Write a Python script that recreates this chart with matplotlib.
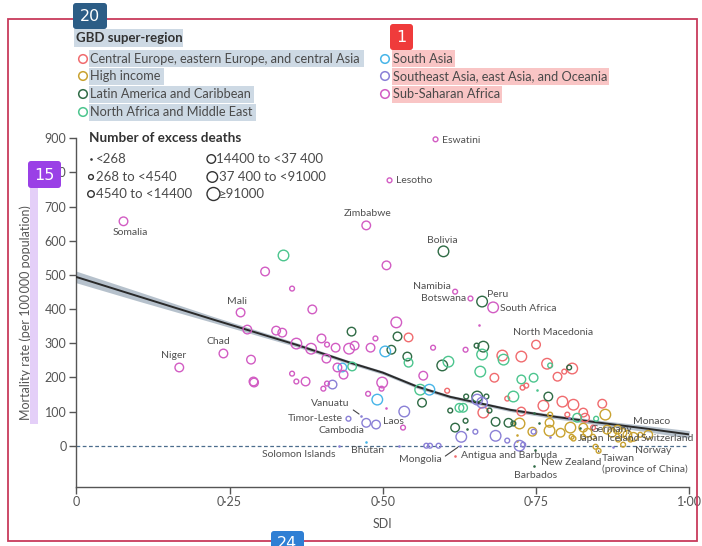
import matplotlib
matplotlib.use("Agg")
import matplotlib.pyplot as plt
from matplotlib.patches import Rectangle, FancyBboxPatch

plt.rcParams["font.family"] = ["Lato", "DejaVu Sans"]

W, H = 702, 546

# ---------------- data ----------------
region_labels = [
    "Central Europe, eastern Europe, and central Asia",
    "High income",
    "Latin America and Caribbean",
    "North Africa and Middle East",
    "South Asia",
    "Southeast Asia, east Asia, and Oceania",
    "Sub-Saharan Africa",
]
region_colors = ["#f06b6e", "#c9a230", "#2f6b45", "#4cc58e", "#47b5e8", "#8a80d6", "#d25cc3"]

size_labels = ["<268", "268 to <4540", "4540 to <14400",
               "14400 to <37 400", "37 400 to <91000", "\u226591000"]

# Central Europe, eastern Europe, and central Asia (named countries first)
cee_names = ["North Macedonia", "Antigua and Barbuda"]
cee_sdi = [0.750, 0.618, 0.542, 0.695, 0.726, 0.768, 0.796, 0.809, 0.785, 0.605,
           0.682, 0.734, 0.664, 0.703, 0.728, 0.762, 0.793, 0.811, 0.827, 0.830,
           0.858, 0.726, 0.843, 0.801]
cee_rate = [296, -29, 317, 264, 261, 240, 217, 226, 202, 161,
            199, 176, 97, 138, 170, 117, 129, 120, 97, 82,
            123, 100, 53, 91]
cee_size = [3, 0, 3, 4, 4, 4, 1, 4, 3, 1, 3, 1, 4, 1, 1, 4, 4, 4, 3, 3, 3, 3, 1, 1]

# High income
hi_names = ["Germany", "Japan", "Iceland", "Switzerland", "Monaco", "Norway",
            "Taiwan\n(province of China)", "New Zealand"]
hi_sdi = [0.863, 0.866, 0.883, 0.909, 0.933, 0.892, 0.852, 0.847,
          0.723, 0.719, 0.719, 0.744, 0.772, 0.772, 0.773, 0.790, 0.806, 0.808,
          0.811, 0.827, 0.834, 0.843, 0.874, 0.891, 0.884, 0.899, 0.904, 0.920, 0.827]
hi_rate = [91, 47, 47, 26, 32, 3, -15, -3,
           65, 32, 15, 41, 67, 44, 91, 38, 53, 26,
           21, 53, 38, 26, 38, 38, 18, 32, 18, 32, 26]
hi_size = [4, 3, 3, 3, 3, 1, 1, 1,
           4, 0, 0, 3, 3, 4, 1, 3, 4, 1, 1, 3, 3, 1, 3, 3, 1, 3, 1, 1, 1]

# Latin America and Caribbean
lac_names = ["Bolivia", "Peru", "Barbados"]
lac_sdi = [0.599, 0.662, 0.747,
           0.449, 0.524, 0.514, 0.540, 0.597, 0.653, 0.664, 0.669, 0.654, 0.636,
           0.564, 0.610, 0.635, 0.618, 0.638, 0.684, 0.705, 0.713, 0.755, 0.746,
           0.804, 0.770, 0.821, 0.749, 0.674]
lac_rate = [569, 422, -59,
            334, 320, 281, 261, 235, 293, 290, 144, 144, 144,
            126, 103, 73, 53, 50, 70, 67, 65, 67, 97,
            229, 144, 53, -12, 103]
lac_size = [4, 4, 0,
            3, 3, 3, 3, 4, 1, 4, 1, 4, 1, 3, 1, 1, 3, 0, 3, 3, 1, 0, 0, 1, 3, 0, 0, 1]

# North Africa and Middle East
name_names = []
name_sdi = [0.338, 0.450, 0.542, 0.607, 0.662, 0.697, 0.659, 0.773, 0.726,
            0.746, 0.752, 0.561, 0.713, 0.625, 0.631, 0.817, 0.848]
name_rate = [557, 232, 243, 246, 267, 252, 217, 235, 194,
             199, 164, 164, 144, 111, 111, 82, 79]
name_size = [4, 3, 3, 4, 4, 4, 4, 1, 3, 3, 0, 4, 4, 3, 3, 3, 1]

# South Asia
sa_names = ["Bhutan"]
sa_sdi = [0.473, 0.504, 0.434, 0.576, 0.491]
sa_rate = [12, 276, 229, 164, 135]
sa_size = [0, 4, 3, 4, 4]

# Southeast Asia, east Asia, and Oceania
sea_names = ["Timor-Leste", "Cambodia", "Laos", "Vanuatu", "Solomon Islands", "Mongolia"]
sea_sdi = [0.444, 0.473, 0.489, 0.465, 0.429, 0.626,
           0.418, 0.535, 0.654, 0.662, 0.651, 0.628, 0.684, 0.703, 0.723, 0.729,
           0.746, 0.773, 0.527, 0.571, 0.577, 0.591, 0.803, 0.876]
sea_rate = [79, 67, 62, 88, 0, 0,
            179, 100, 135, 126, 41, 26, 29, 15, 0, 3,
            41, 26, 0, 0, 0, 0, 82, -3]
sea_size = [1, 3, 3, 0, 0, 0,
            3, 4, 4, 4, 1, 4, 4, 1, 4, 1, 1, 0, 0, 1, 1, 1, 0, 0]

# Sub-Saharan Africa
ssa_names = ["Somalia", "Niger", "Chad", "Mali", "Zimbabwe", "Lesotho",
             "Eswatini", "Namibia", "Botswana", "South Africa"]
ssa_sdi = [0.077, 0.168, 0.240, 0.268, 0.473, 0.511, 0.586, 0.618, 0.643, 0.680,
           0.279, 0.285, 0.289, 0.308, 0.352, 0.326, 0.336, 0.359, 0.383, 0.385,
           0.400, 0.409, 0.423, 0.445, 0.454, 0.480, 0.488, 0.522, 0.408, 0.426,
           0.436, 0.352, 0.359, 0.374, 0.403, 0.409, 0.290, 0.506, 0.657, 0.582,
           0.635, 0.566, 0.499, 0.498, 0.476, 0.506, 0.533]
ssa_rate = [657, 229, 270, 390, 645, 777, 897, 451, 431, 405,
            340, 252, 188, 510, 460, 337, 331, 299, 284, 399,
            314, 296, 287, 284, 293, 287, 314, 361, 255, 229,
            208, 211, 188, 188, 167, 182, 185, 528, 352, 287,
            281, 205, 185, 167, 152, 111, 53]
ssa_size = [3, 3, 3, 3, 3, 1, 1, 1, 1, 4,
            3, 3, 3, 3, 1, 3, 3, 4, 4, 3,
            3, 1, 3, 4, 3, 3, 1, 4, 3, 3,
            3, 1, 1, 3, 1, 1, 3, 3, 0, 1,
            1, 3, 4, 1, 1, 0, 1]

# Fitted relationship between SDI and mortality, with its uncertainty band
fit_sdi = [0.0, 0.1, 0.224, 0.36, 0.447, 0.50, 0.556, 0.61, 0.708, 0.78, 0.855, 0.93, 1.0]
fit_rate = [494, 438, 369, 295, 243, 214, 173, 143, 105, 85, 67, 50, 33]
fit_half = [17, 14, 9, 6, 5, 5, 5, 5, 5, 6, 7, 9, 11]

x_ticks = [0, 0.25, 0.5, 0.75, 1.0]
x_tick_labels = ["0", "0\u00b725", "0\u00b750", "0\u00b775", "1\u00b700"]
y_ticks = [0, 100, 200, 300, 400, 500, 600, 700, 800, 900]

# ---------------- styling ----------------
ink = "#555555"
label_ink = "#505050"
diam_px = [2.6, 4.8, 6.6, 8.6, 10.6, 13.0]


def msize(cls):
    return (diam_px[cls] * 0.72) ** 2


# label placement: offset in pixels (x right, y up) and alignment
label_pos = {
    "Somalia": (7, -11, "center"), "Niger": (-6, 12, "center"), "Chad": (-5, 12, "center"),
    "Mali": (-4, 11, "center"), "Zimbabwe": (1, 12, "center"), "Bolivia": (-1, 11, "center"),
    "Lesotho": (6, 0, "left"), "Eswatini": (6, -1, "left"), "Namibia": (-4, 5, "right"),
    "Botswana": (-4, 0, "right"), "Peru": (5, 7, "left"), "South Africa": (7, -1, "left"),
    "North Macedonia": (17, 12, "center"), "Antigua and Barbuda": (6, 0, "left"),
    "Barbados": (1, -10, "center"), "Bhutan": (1, -9, "center"), "Timor-Leste": (-6, 0, "right"),
    "Cambodia": (-2, -8, "right"), "Laos": (7, 3, "left"), "Vanuatu": (-12, 12, "right"),
    "Solomon Islands": (-41, -9, "center"), "Mongolia": (-40, -14, "center"),
    "Germany": (-15, -15, "left"), "Japan": (-29, -9, "left"), "Iceland": (-11, -9, "left"),
    "Switzerland": (7, -2, "left"), "Monaco": (-15, 13, "left"), "Norway": (12, -6, "left"),
    "Taiwan\n(province of China)": (3, -13, "left"), "New Zealand": (-55, -16, "left"),
}
leaders = {"Vanuatu": (1.0, 0.1), "Mongolia": (1.0, 0.6), "Taiwan\n(province of China)": (0.0, 0.55)}

fig = plt.figure(figsize=(W / 100, H / 100), dpi=100)
ax = fig.add_axes([76.3 / W, 1 - 486.7 / H, 613 / W, (486.7 - 138.3) / H])
ax.set_xlim(0, 1)
ax.set_ylim(-120, 900)
for s in ["top", "right"]:
    ax.spines[s].set_visible(False)
for s in ["left", "bottom"]:
    ax.spines[s].set_color(ink)
    ax.spines[s].set_linewidth(1.0)
ax.set_xticks(x_ticks)
ax.set_xticklabels(x_tick_labels)
ax.set_yticks(y_ticks)
ax.tick_params(length=5, width=1, color=ink, labelcolor=ink, labelsize=9, pad=2)
ax.set_xlabel("SDI", color=ink, fontsize=9, labelpad=7)
ax.set_ylabel("Mortality rate (per 100\u2009000 population)", color=ink, fontsize=9, labelpad=9.5)

lo = [r - h for r, h in zip(fit_rate, fit_half)]
hi = [r + h for r, h in zip(fit_rate, fit_half)]
ax.fill_between(fit_sdi, lo, hi, color="#9eadbb", alpha=0.75, lw=0, zorder=2)
ax.plot(fit_sdi, fit_rate, color="#2a2a2a", lw=1.4, zorder=3)
ax.axhline(0, color="#4b6c8c", lw=0.9, ls=(0, (3, 2)), zorder=1)

regions = [
    (cee_names, cee_sdi, cee_rate, cee_size),
    (hi_names, hi_sdi, hi_rate, hi_size),
    (lac_names, lac_sdi, lac_rate, lac_size),
    (name_names, name_sdi, name_rate, name_size),
    (sa_names, sa_sdi, sa_rate, sa_size),
    (sea_names, sea_sdi, sea_rate, sea_size),
    (ssa_names, ssa_sdi, ssa_rate, ssa_size),
]

for (names, xs, ys, sz), col in zip(regions, region_colors):
    ring_x = [x for x, c in zip(xs, sz) if c > 0]
    ring_y = [y for y, c in zip(ys, sz) if c > 0]
    ring_s = [msize(c) for c in sz if c > 0]
    dot_x = [x for x, c in zip(xs, sz) if c == 0]
    dot_y = [y for y, c in zip(ys, sz) if c == 0]
    ax.scatter(ring_x, ring_y, s=ring_s, facecolors="none", edgecolors=col,
               linewidths=1.0, zorder=4, clip_on=False)
    ax.scatter(dot_x, dot_y, s=msize(0), color=col, linewidths=0, zorder=4, clip_on=False)
    for i, nm in enumerate(names):
        dx, dy, ha = label_pos[nm]
        kw = {}
        if nm in leaders:
            kw["arrowprops"] = dict(arrowstyle="-", color="#444444", lw=0.8,
                                    shrinkA=1, shrinkB=2, relpos=leaders[nm])
        ax.annotate(nm, (xs[i], ys[i]), xytext=(dx, dy), textcoords="offset pixels",
                    ha=ha, va="center", fontsize=7.5, color=label_ink,
                    linespacing=1.15, zorder=6, **kw)

# ---------------- legends and frame (pixel overlay) ----------------
ov = fig.add_axes([0, 0, 1, 1], zorder=5)
ov.set_xlim(0, W)
ov.set_ylim(H, 0)
ov.axis("off")
ov.patch.set_alpha(0)

# highlight bands behind the region legend
blue_hl = "#cdd9e4"
pink_hl = "#f9c5c5"
for (x0, y0, w, h, c) in [(74, 29, 109, 18, blue_hl), (89, 50, 275, 17, blue_hl),
                          (89, 68, 75, 17, blue_hl), (89, 86, 165, 17, blue_hl),
                          (89, 104, 167, 17, blue_hl), (392, 50, 63, 17, pink_hl),
                          (392, 68, 217, 17, pink_hl), (392, 86, 110, 17, pink_hl)]:
    ov.add_patch(Rectangle((x0, y0), w, h, facecolor=c, edgecolor="none", zorder=0))
ov.add_patch(Rectangle((30, 188), 8, 236, facecolor="#e4cff8", edgecolor="none", zorder=0))

ov.text(76, 38, "GBD super-region", fontsize=9.5, fontweight="bold", color="#333333",
        va="center", ha="left", zorder=2)
left_rows = [59, 76, 94, 112]
right_rows = [59, 76, 94]
slots = [(83, 90, y) for y in left_rows] + [(385, 393, y) for y in right_rows]
for (mx, tx, y), lab, col in zip(slots, region_labels, region_colors):
    ov.scatter([mx], [y], s=msize(3), facecolors="none", edgecolors=col, linewidths=1.1, zorder=2)
    ov.text(tx, y, lab, fontsize=9.2, color="#4a4a4a", va="center", ha="left", zorder=2)

ov.text(89, 138, "Number of excess deaths", fontsize=9.7, fontweight="bold",
        color="#333333", va="center", ha="left", zorder=2)
size_rows = [159, 177, 194]
size_slots = [(91, 96, y) for y in size_rows] + [(209, 216, y) for y in size_rows]
for k, ((mx, tx, y), lab) in enumerate(zip(size_slots, size_labels)):
    if k == 0:
        ov.scatter([mx], [y], s=msize(0), color="#333333", linewidths=0, zorder=2)
    else:
        ov.scatter([mx + (diam_px[k] - 4) / 2 * (1 if k >= 3 else 0)], [y], s=msize(k),
                   facecolors="none", edgecolors="#333333", linewidths=1.0, zorder=2)
    ov.text(tx + (3 if k >= 4 else 0), y, lab, fontsize=9.5, color="#4a4a4a",
            va="center", ha="left", zorder=2)

# outer frame
ov.add_patch(Rectangle((8, 19), 689, 522, facecolor="none", edgecolor="#c83a5c", lw=1.3, zorder=3))

# numbered tags
for (x0, y0, w, h, c, t) in [(73, 3, 34, 26, "#2c5d86", "20"), (390, 24, 23, 26, "#ef3b3b", "1"),
                             (28, 161, 33, 27, "#9a40e6", "15"), (271, 531, 33, 24, "#2f7fd4", "24")]:
    ov.add_patch(FancyBboxPatch((x0, y0), w, h, boxstyle="round,pad=0,rounding_size=3",
                                facecolor=c, edgecolor="none", zorder=4, clip_on=False))
    ov.text(x0 + w / 2, y0 + h / 2 + 0.5, t, color="white", fontsize=11.5,
            ha="center", va="center", zorder=5, family=["DejaVu Sans"])

fig.savefig("out.png", dpi=100)
